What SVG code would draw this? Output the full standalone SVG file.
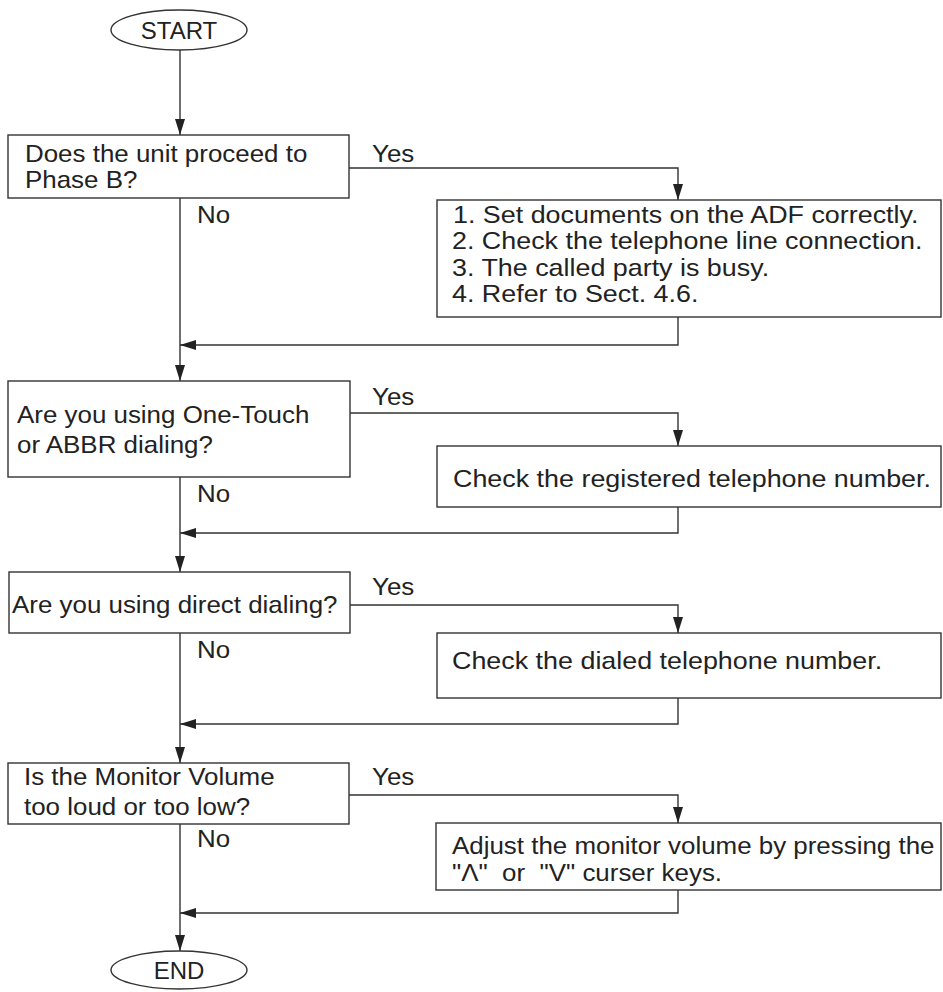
<svg xmlns="http://www.w3.org/2000/svg" width="943" height="992" viewBox="0 0 943 992">
<defs>
<style>
.box{fill:#fff;stroke:#333;stroke-width:1.4}
.term{fill:#fff;stroke:#333;stroke-width:1.4}
.t{font-family:"Liberation Sans",Arial,Helvetica,sans-serif;font-size:24px;fill:#222}
.c{fill:none;stroke:#333;stroke-width:1.4}
</style>
<marker id="arr" markerWidth="16" markerHeight="10" refX="16" refY="5" orient="auto" markerUnits="userSpaceOnUse">
<path d="M0,0 L16,5 L0,10 z" fill="#222"/>
</marker>
</defs>
<rect width="943" height="992" fill="#fff"/>

<g id="connectors">
<path class="c" d="M180,50 V135" marker-end="url(#arr)"/>
<path class="c" d="M349,168 H678 V200" marker-end="url(#arr)"/>
<path class="c" d="M180,198 V381" marker-end="url(#arr)"/>
<path class="c" d="M678,317 V345 H180" marker-end="url(#arr)"/>
<path class="c" d="M350,413 H678 V446" marker-end="url(#arr)"/>
<path class="c" d="M180,477 V572" marker-end="url(#arr)"/>
<path class="c" d="M678,507 V533 H180" marker-end="url(#arr)"/>
<path class="c" d="M350,605 H678 V633" marker-end="url(#arr)"/>
<path class="c" d="M180,633 V763" marker-end="url(#arr)"/>
<path class="c" d="M678,698 V724 H180" marker-end="url(#arr)"/>
<path class="c" d="M349,795 H678 V823" marker-end="url(#arr)"/>
<path class="c" d="M180,824 V951" marker-end="url(#arr)"/>
<path class="c" d="M678,890 V913 H180" marker-end="url(#arr)"/>
<text class="t" transform="matrix(1.08 0 0 1 372 162)">Yes</text>
<text class="t" transform="matrix(1.08 0 0 1 197 223)">No</text>
<text class="t" transform="matrix(1.08 0 0 1 372 405)">Yes</text>
<text class="t" transform="matrix(1.08 0 0 1 197 502)">No</text>
<text class="t" transform="matrix(1.08 0 0 1 372 595)">Yes</text>
<text class="t" transform="matrix(1.08 0 0 1 197 658)">No</text>
<text class="t" transform="matrix(1.08 0 0 1 372 785)">Yes</text>
<text class="t" transform="matrix(1.08 0 0 1 197 847)">No</text>
</g>

<g id="start">
<ellipse class="term" cx="179" cy="30" rx="68" ry="20"/>
<text class="t" x="179" y="39" text-anchor="middle">START</text>
</g>

<g id="q1">
<rect class="box" x="8" y="135" width="341" height="63"/>
<text class="t" transform="matrix(1.08 0 0 1 25 162)">Does the unit proceed to</text>
<text class="t" transform="matrix(1.08 0 0 1 25 188)">Phase B?</text>
</g>

<g id="a1">
<rect class="box" x="437" y="200" width="504" height="117"/>
<text class="t" transform="matrix(1.12 0 0 1 453 223)">1. Set documents on the ADF correctly.</text>
<text class="t" transform="matrix(1.12 0 0 1 452 249)">2. Check the telephone line connection.</text>
<text class="t" transform="matrix(1.12 0 0 1 452 276)">3. The called party is busy.</text>
<text class="t" transform="matrix(1.12 0 0 1 452 302)">4. Refer to Sect. 4.6.</text>
</g>

<g id="q2">
<rect class="box" x="8" y="381" width="342" height="96"/>
<text class="t" transform="matrix(1.08 0 0 1 17 423)">Are you using One-Touch</text>
<text class="t" transform="matrix(1.08 0 0 1 17 453)">or ABBR dialing?</text>
</g>

<g id="a2">
<rect class="box" x="437" y="446" width="504" height="61"/>
<text class="t" transform="matrix(1.12 0 0 1 453 487)">Check the registered telephone number.</text>
</g>

<g id="q3">
<rect class="box" x="9" y="572" width="341" height="61"/>
<text class="t" transform="matrix(1.08 0 0 1 12 613)">Are you using direct dialing?</text>
</g>

<g id="a3">
<rect class="box" x="437" y="633" width="504" height="65"/>
<text class="t" transform="matrix(1.12 0 0 1 452 669)">Check the dialed telephone number.</text>
</g>

<g id="q4">
<rect class="box" x="8" y="763" width="341" height="61"/>
<text class="t" transform="matrix(1.08 0 0 1 24 785)">Is the Monitor Volume</text>
<text class="t" transform="matrix(1.08 0 0 1 24 815)">too loud or too low?</text>
</g>

<g id="a4">
<rect class="box" x="436" y="823" width="505" height="67"/>
<text class="t" transform="matrix(1.08 0 0 1 452 854)">Adjust the monitor volume by pressing the</text>
<text class="t" transform="matrix(1.08 0 0 1 452 881)" xml:space="preserve">"Λ"  or  "V" curser keys.</text>
</g>

<g id="end">
<ellipse class="term" cx="179" cy="970" rx="68" ry="19"/>
<text class="t" x="179" y="979" text-anchor="middle">END</text>
</g>
</svg>
